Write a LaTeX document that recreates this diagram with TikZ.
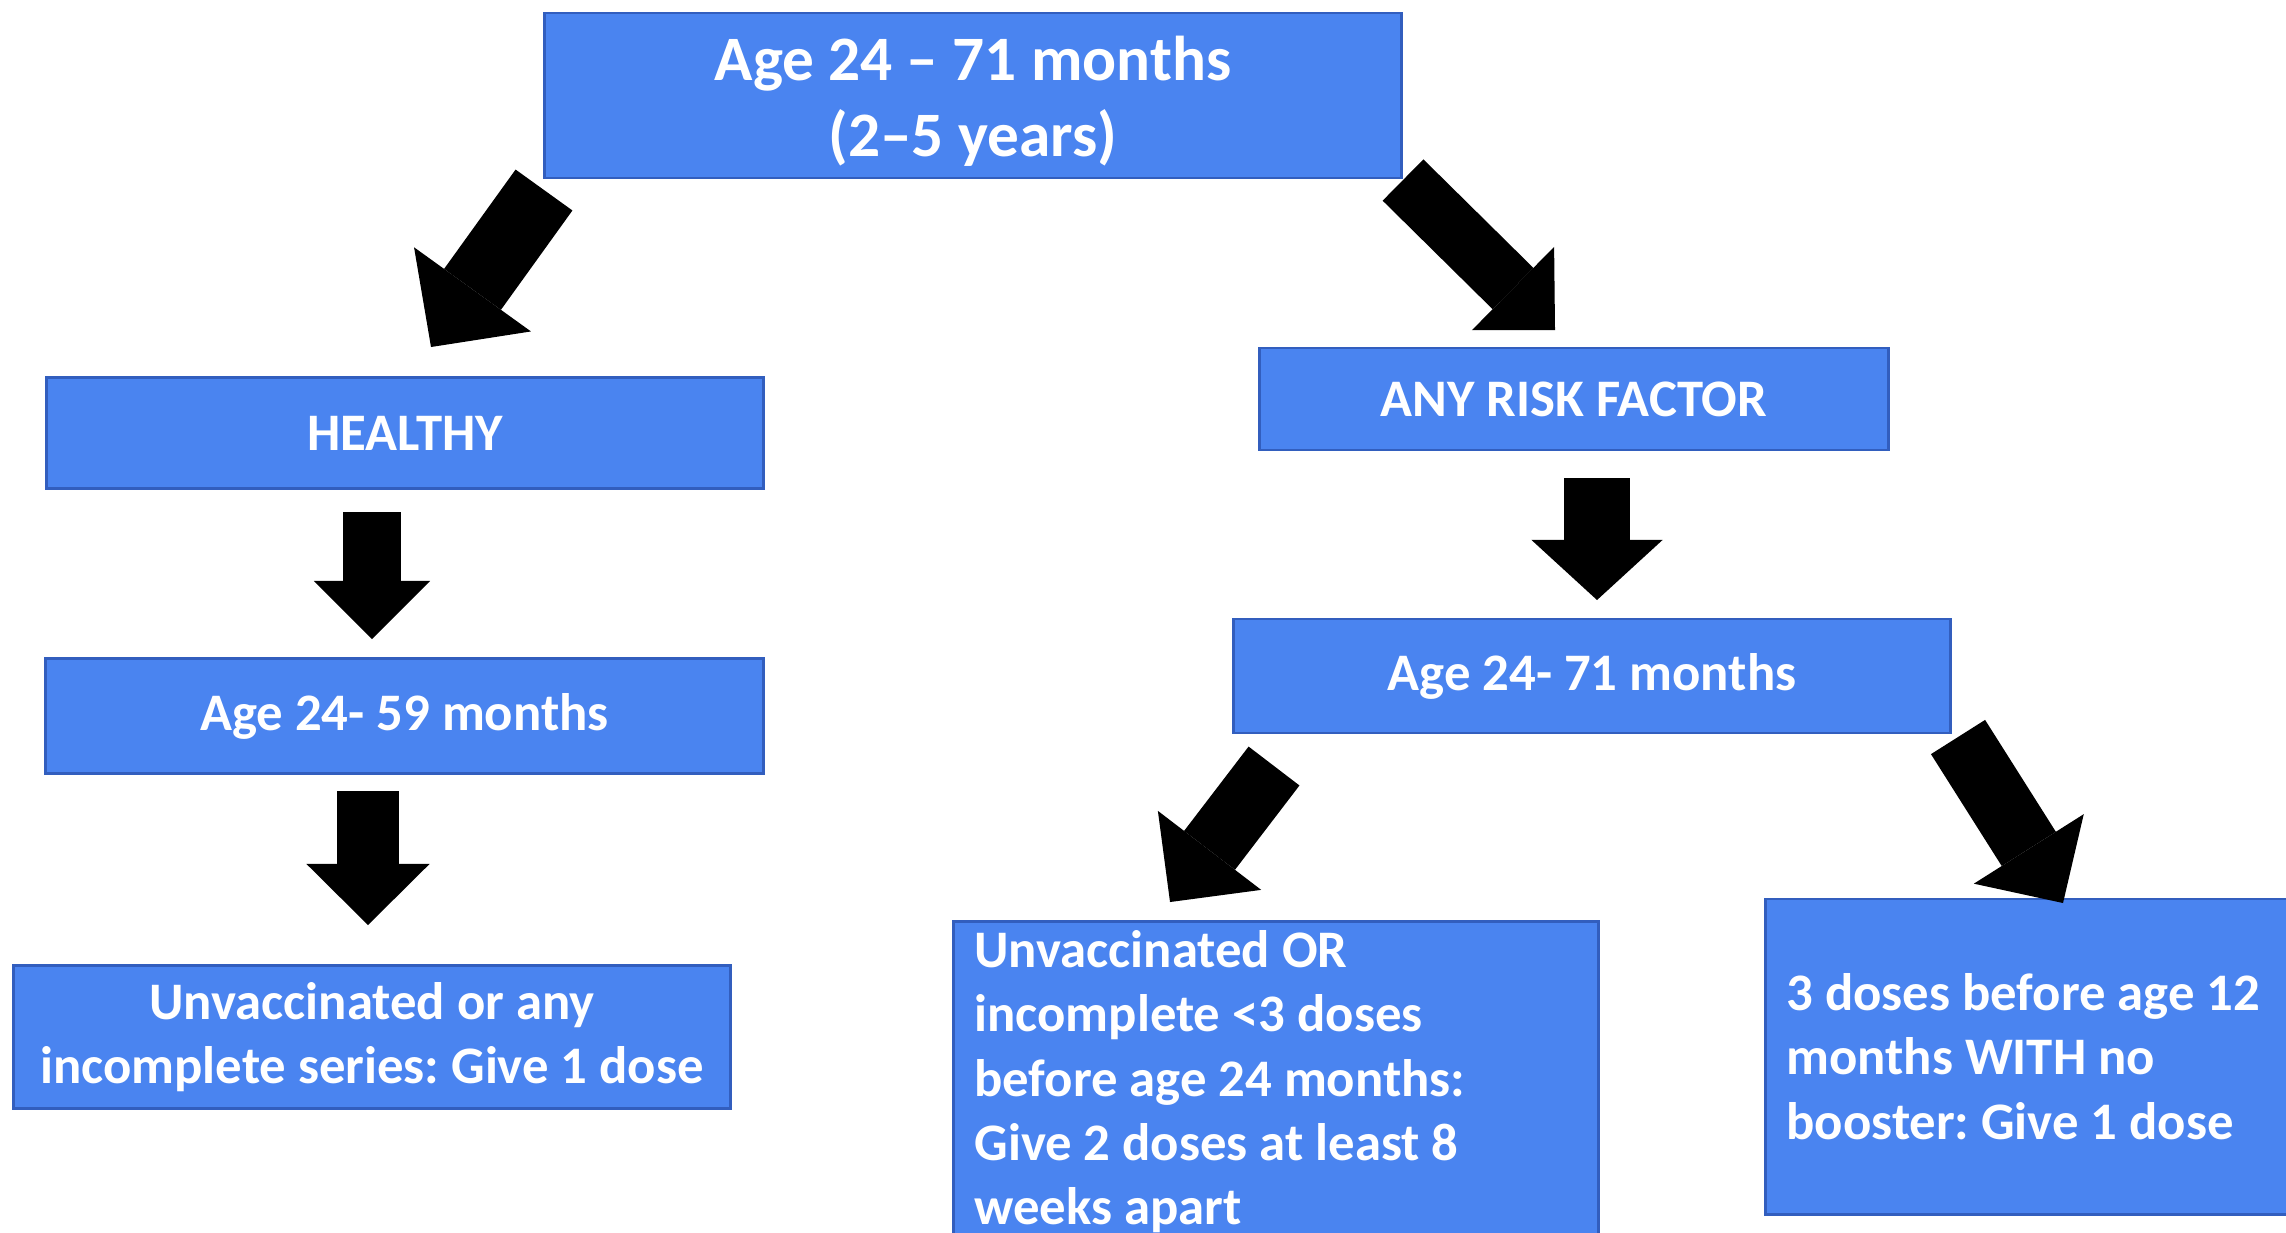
\documentclass[tikz,border=0pt]{standalone}
\usepackage{fontspec}
\setmainfont{Carlito}
\usetikzlibrary{arrows.meta}
\definecolor{boxfill}{RGB}{74,132,240}
\definecolor{boxline}{RGB}{50,94,190}
\tikzset{
  box/.style={draw=boxline, fill=boxfill, line width=0.8pt, text=white, inner sep=0pt,
    align=center, font=\frenchspacing\bfseries\fontsize{15}{18.3}\selectfont},
  fat arrow/.style n args={3}{line width=#1, -{Triangle[width=#2, length=#3, line width=0pt]}},
}
\begin{document}
\begin{tikzpicture}[x=0.01cm, y=-0.01cm]
  \useasboundingbox (0,0) rectangle (2286,1232);
  \clip (0,0) rectangle (2286,1232);

  % boxes
  \node[box, minimum width=8.56cm, minimum height=1.65cm,
    font=\bfseries\fontsize{18}{21.6}\selectfont] (age) at (973,95.5)
    {\rule{0pt}{16pt}Age 24 – 71 months\\(2–5 years)};
  \node[box, minimum width=7.16cm, minimum height=1.11cm] (healthy) at (405,433) {HEALTHY};
  \node[box, minimum width=7.17cm, minimum height=1.15cm] (young) at (404.5,716) {Age 24- 59 months};
  \node[box, minimum width=7.16cm, minimum height=1.43cm] (onedose) at (372,1037)
    {Unvaccinated or any\\incomplete series: Give 1 dose};
  \node[box, minimum width=6.28cm, minimum height=1.02cm] (risk) at (1574,399) {ANY RISK FACTOR};
  \node[box, minimum width=7.16cm, minimum height=1.14cm] (older) at (1592,676) {Age 24- 71 months};
  \node[box, anchor=north west, align=flush left, text width=6.03cm, inner xsep=0.21cm,
    inner ysep=0.09cm] (twodoses) at (952,920)
    {Unvaccinated OR\\incomplete <3 doses\\before age 24 months:\\Give 2 doses at least 8\\weeks apart};
  \node[box, anchor=west, align=flush left, text width=6cm, inner xsep=0.21cm,
    minimum height=3.15cm] (booster) at (1764,1056.5)
    {3 doses before age 12\\months WITH no\\booster: Give 1 dose};

  % arrow ends
  \coordinate (age-l) at (544,190);    \coordinate (healthy-in) at (431,347);
  \coordinate (age-r) at (1403,180);   \coordinate (risk-in) at (1555,330);
  \coordinate (healthy-out) at (372,512); \coordinate (young-in) at (372,639);
  \coordinate (young-out) at (368,791);   \coordinate (onedose-in) at (368,925);
  \coordinate (risk-out) at (1597,478);   \coordinate (older-in) at (1597,600);
  \coordinate (older-l) at (1274,766);    \coordinate (twodoses-in) at (1170,902);
  \coordinate (older-r) at (1958,737);    \coordinate (booster-in) at (2063,903);

  % arrows
  \draw[fat arrow={0.70cm}{1.44cm}{0.71cm}] (age-l) -- (healthy-in);
  \draw[fat arrow={0.58cm}{1.17cm}{0.59cm}] (age-r) -- (risk-in);
  \draw[fat arrow={0.58cm}{1.16cm}{0.58cm}] (healthy-out) -- (young-in);
  \draw[fat arrow={0.62cm}{1.23cm}{0.61cm}] (young-out) -- (onedose-in);
  \draw[fat arrow={0.66cm}{1.31cm}{0.60cm}] (risk-out) -- (older-in);
  \draw[fat arrow={0.64cm}{1.30cm}{0.65cm}] (older-l) -- (twodoses-in);
  \draw[fat arrow={0.64cm}{1.30cm}{0.64cm}] (older-r) -- (booster-in);
\end{tikzpicture}
\end{document}
